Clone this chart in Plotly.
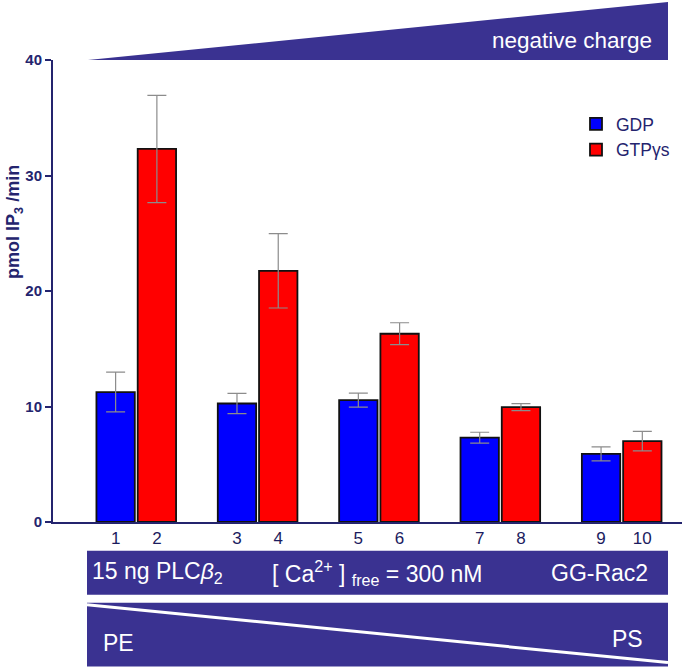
import plotly.graph_objects as go

# data (pmol IP3/min, mean and error)
groups = [0, 1, 2, 3, 4]
gdp_vals = [11.25, 10.26, 10.55, 7.30, 5.90]
gdp_err = [1.72, 0.87, 0.60, 0.47, 0.60]
gtp_vals = [32.30, 21.75, 16.30, 9.95, 7.00]
gtp_err = [4.64, 3.22, 0.95, 0.30, 0.85]
lane_labels = ["1", "2", "3", "4", "5", "6", "7", "8", "9", "10"]

NAVY = "#24246e"
BANNER = "#3a3291"
FONT = "Liberation Sans, Arial, sans-serif"
BARGAP = 0.32
GROUPGAP = 0.07

# plot area in pixels (used for the decorative banners)
W, H = 685, 668
L, R, T, B = 53, 682, 60, 522.3


def px(x):
    return (x - L) / (R - L)


def py(y):
    return (B - y) / (B - T)


fig = go.Figure()
fig.add_trace(go.Bar(
    x=groups, y=gdp_vals, name="GDP",
    marker=dict(color="#0000ff", line=dict(color="#111111", width=1.8)),
    error_y=dict(type="data", array=gdp_err, color="#8c8c8c", thickness=1.2, width=9.5),
))
fig.add_trace(go.Bar(
    x=groups, y=gtp_vals, name="GTP\u03b3s",
    marker=dict(color="#ff0000", line=dict(color="#111111", width=1.8)),
    error_y=dict(type="data", array=gtp_err, color="#8c8c8c", thickness=1.2, width=9.5),
))

# lane numbers under each bar
off = (1 - BARGAP) / 4
tickvals = []
for g in groups:
    tickvals += [g - off, g + off]

shapes = [
    # "negative charge" wedge on top
    dict(type="path", xref="paper", yref="paper",
         path=f"M {px(88)},{py(60)} L {px(668)},{py(2)} L {px(668)},{py(60)} Z",
         fillcolor=BANNER, line=dict(width=0)),
    # condition bar
    dict(type="rect", xref="paper", yref="paper",
         x0=px(87), x1=px(668), y0=py(595), y1=py(551),
         fillcolor=BANNER, line=dict(width=0)),
    # PE -> PS gradient bar
    dict(type="rect", xref="paper", yref="paper",
         x0=px(87), x1=px(668), y0=py(667), y1=py(603),
         fillcolor=BANNER, line=dict(width=0)),
    dict(type="line", xref="paper", yref="paper",
         x0=px(87), y0=py(605), x1=px(668), y1=py(663),
         line=dict(color="white", width=3)),
]

white = dict(color="white", family=FONT, size=23)
annotations = [
    dict(text="negative charge", x=px(654), y=py(40), xanchor="right", yanchor="middle",
         font=dict(color="white", family=FONT, size=22.5)),
    dict(text="15 ng PLC<i>\u03b2</i><sub>2</sub>", x=px(90), y=py(573), xanchor="left",
         yanchor="middle", font=white),
    dict(text="[ Ca<sup>2+</sup> ] <sub>free</sub> = 300 nM", x=px(270), y=py(573),
         xanchor="left", yanchor="middle", font=white),
    dict(text="GG-Rac2", x=px(650), y=py(573), xanchor="right", yanchor="middle", font=white),
    dict(text="PE", x=px(101), y=py(643), xanchor="left", yanchor="middle", font=white),
    dict(text="PS", x=px(645), y=py(639), xanchor="right", yanchor="middle", font=white),
    dict(text="<b>pmol IP<sub>3</sub> /min</b>", x=px(15), y=py(222), textangle=-90,
         xanchor="center", yanchor="middle", font=dict(color=NAVY, family=FONT, size=18)),
]
for a in annotations:
    a.update(xref="paper", yref="paper", showarrow=False)

fig.update_layout(
    width=W, height=H,
    margin=dict(l=L, r=W - R, t=T, b=H - B),
    paper_bgcolor="white", plot_bgcolor="white",
    barmode="group", bargap=BARGAP, bargroupgap=GROUPGAP,
    font=dict(family=FONT, color=NAVY),
    shapes=shapes, annotations=annotations,
    legend=dict(x=px(576), y=py(106), xanchor="left", yanchor="top",
                font=dict(size=17.5, color=NAVY, family=FONT), bgcolor="rgba(0,0,0,0)",
                tracegroupgap=2),
    xaxis=dict(range=[-0.686, 4.497], tickvals=tickvals, ticktext=lane_labels,
               showline=True, linecolor=NAVY, linewidth=2, ticks="", showgrid=False,
               zeroline=False, tickfont=dict(size=17, color="#1b1b5e"), fixedrange=True),
    yaxis=dict(range=[0, 40], tickvals=[0, 10, 20, 30, 40], showline=True, linecolor=NAVY,
               linewidth=2, ticks="outside", ticklen=6, tickwidth=2, tickcolor=NAVY,
               showgrid=False, zeroline=False,
               tickfont=dict(size=15, color=NAVY, family=FONT, weight="bold"),
               fixedrange=True),
)

# the page body has a default 8px margin; drop it so the figure sits at the window corner
fig.write_html("out.html", config={"displayModeBar": False},
               post_script="document.body.style.margin='0';")
